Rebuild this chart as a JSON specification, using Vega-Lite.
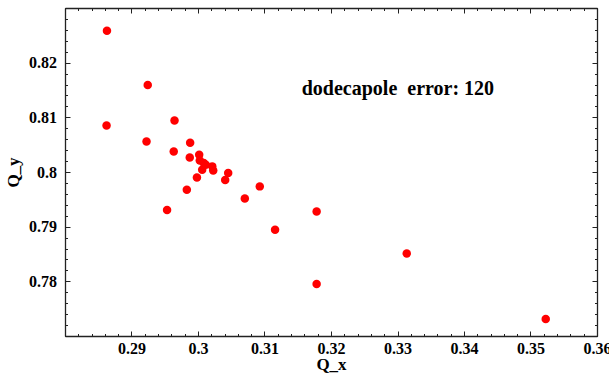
{
  "$schema": "https://vega.github.io/schema/vega-lite/v6.json",
  "width": 532,
  "height": 328,
  "autosize": {"type": "none"},
  "padding": {"left": 65, "top": 8, "right": 12, "bottom": 37},
  "background": "white",
  "config": {
    "view": {"stroke": "#222222", "strokeWidth": 1},
    "axis": {
      "grid": false,
      "domainColor": "#222222",
      "domainWidth": 1.3,
      "tickColor": "#222222",
      "labelColor": "black",
      "titleColor": "black",
      "labelFont": "Liberation Serif",
      "titleFont": "Liberation Serif",
      "labelFontWeight": "bold",
      "titleFontWeight": "bold",
      "labelFontSize": 16,
      "titleFontSize": 17,
      "labelOverlap": false,
      "labelFlush": false,
      "labelBound": false
    }
  },
  "resolve": {"axis": {"x": "independent", "y": "independent"}},
  "layer": [
    {
      "data": {"values": [{"x": 0.3156, "y": 0.8152, "label": "dodecapole\u00a0 error: 120"}]},
      "mark": {"type": "text", "align": "left", "baseline": "middle", "font": "Liberation Serif", "fontWeight": "bold", "fontSize": 20, "color": "black"},
      "encoding": {
        "x": {"field": "x", "type": "quantitative", "scale": {"domain": [0.28, 0.36], "nice": false, "zero": false},
          "axis": {"orient": "top", "title": null, "labels": false,
            "values": [0.28,0.282,0.284,0.286,0.288,0.29,0.292,0.294,0.296,0.298,0.3,0.302,0.304,0.306,0.308,0.31,0.312,0.314,0.316,0.318,0.32,0.322,0.324,0.326,0.328,0.33,0.332,0.334,0.336,0.338,0.34,0.342,0.344,0.346,0.348,0.35,0.352,0.354,0.356,0.358,0.36],
            "tickSize": {"condition": {"test": "abs(datum.value*100 - round(datum.value*100)) < 0.001", "value": -5}, "value": -2.5}}},
        "y": {"field": "y", "type": "quantitative", "scale": {"domain": [0.77, 0.83], "nice": false, "zero": false},
          "axis": {"orient": "right", "title": null, "labels": false,
            "values": [0.77,0.772,0.774,0.776,0.778,0.78,0.782,0.784,0.786,0.788,0.79,0.792,0.794,0.796,0.798,0.8,0.802,0.804,0.806,0.808,0.81,0.812,0.814,0.816,0.818,0.82,0.822,0.824,0.826,0.828,0.83],
            "tickSize": {"condition": {"test": "abs(datum.value*100 - round(datum.value*100)) < 0.001", "value": -5}, "value": -2.5}}},
        "text": {"field": "label"}
      }
    },
    {
      "data": {"values": [
        {"Q_x": 0.28631, "Q_y": 0.82586},
        {"Q_x": 0.28625, "Q_y": 0.80850},
        {"Q_x": 0.29244, "Q_y": 0.81593},
        {"Q_x": 0.29226, "Q_y": 0.80557},
        {"Q_x": 0.29647, "Q_y": 0.80941},
        {"Q_x": 0.29635, "Q_y": 0.80375},
        {"Q_x": 0.29535, "Q_y": 0.79307},
        {"Q_x": 0.29882, "Q_y": 0.80535},
        {"Q_x": 0.29876, "Q_y": 0.80266},
        {"Q_x": 0.29832, "Q_y": 0.79676},
        {"Q_x": 0.29984, "Q_y": 0.79900},
        {"Q_x": 0.30018, "Q_y": 0.80317},
        {"Q_x": 0.30027, "Q_y": 0.80212},
        {"Q_x": 0.30087, "Q_y": 0.80165},
        {"Q_x": 0.30117, "Q_y": 0.80134},
        {"Q_x": 0.30214, "Q_y": 0.80103},
        {"Q_x": 0.30229, "Q_y": 0.80029},
        {"Q_x": 0.30063, "Q_y": 0.80042},
        {"Q_x": 0.30454, "Q_y": 0.79982},
        {"Q_x": 0.30409, "Q_y": 0.79854},
        {"Q_x": 0.30929, "Q_y": 0.79737},
        {"Q_x": 0.30704, "Q_y": 0.79517},
        {"Q_x": 0.31159, "Q_y": 0.78943},
        {"Q_x": 0.31784, "Q_y": 0.79278},
        {"Q_x": 0.31784, "Q_y": 0.77950},
        {"Q_x": 0.33139, "Q_y": 0.78511},
        {"Q_x": 0.35229, "Q_y": 0.77311}
      ]},
      "mark": {"type": "point", "filled": true, "shape": "circle", "size": 72, "color": "#ff0000", "opacity": 1},
      "encoding": {
        "x": {"field": "Q_x", "type": "quantitative", "scale": {"domain": [0.28, 0.36], "nice": false, "zero": false},
          "axis": {"orient": "bottom", "title": "Q_x", "titlePadding": -2.5, "labelPadding": 9,
            "values": [0.28,0.282,0.284,0.286,0.288,0.29,0.292,0.294,0.296,0.298,0.3,0.302,0.304,0.306,0.308,0.31,0.312,0.314,0.316,0.318,0.32,0.322,0.324,0.326,0.328,0.33,0.332,0.334,0.336,0.338,0.34,0.342,0.344,0.346,0.348,0.35,0.352,0.354,0.356,0.358,0.36],
            "labelExpr": "(abs(datum.value*100 - round(datum.value*100)) < 0.001 && datum.value > 0.285) ? format(datum.value, '.2~f') : ''",
            "tickSize": {"condition": {"test": "abs(datum.value*100 - round(datum.value*100)) < 0.001", "value": -5}, "value": -2.5}}},
        "y": {"field": "Q_y", "type": "quantitative", "scale": {"domain": [0.77, 0.83], "nice": false, "zero": false},
          "axis": {"orient": "left", "title": "Q_y", "titlePadding": 6, "labelPadding": 13.5,
            "values": [0.77,0.772,0.774,0.776,0.778,0.78,0.782,0.784,0.786,0.788,0.79,0.792,0.794,0.796,0.798,0.8,0.802,0.804,0.806,0.808,0.81,0.812,0.814,0.816,0.818,0.82,0.822,0.824,0.826,0.828,0.83],
            "labelExpr": "(abs(datum.value*100 - round(datum.value*100)) < 0.001 && datum.value > 0.775 && datum.value < 0.825) ? format(datum.value, '.2~f') : ''",
            "tickSize": {"condition": {"test": "abs(datum.value*100 - round(datum.value*100)) < 0.001", "value": -5}, "value": -2.5}}}
      }
    }
  ]
}
